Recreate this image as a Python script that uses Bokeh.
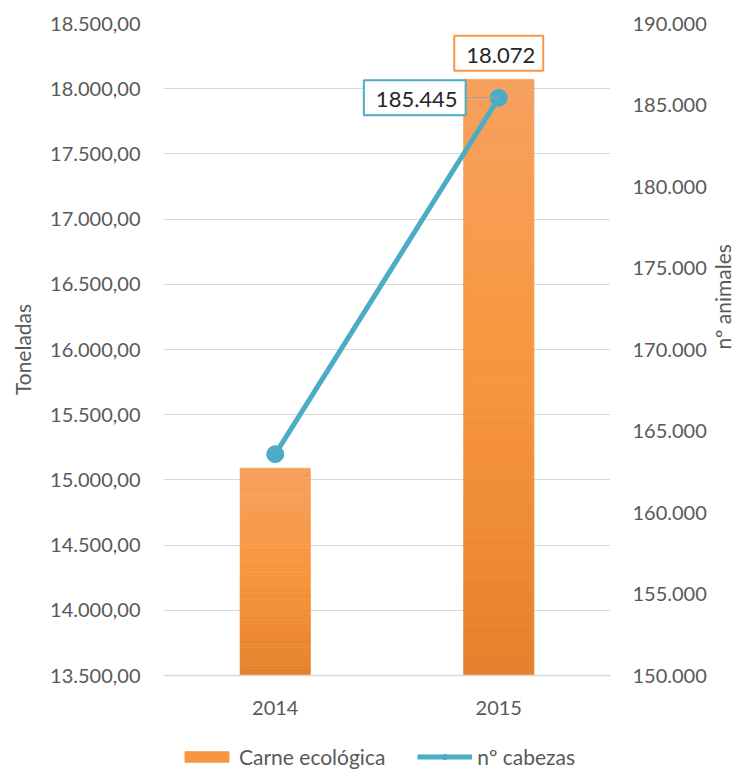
import math
from bokeh.plotting import figure
from bokeh.layouts import column
from bokeh.models import (Range1d, LinearAxis, FixedTicker, Legend, LegendItem, Label,
                          Arrow, ColumnDataSource, FactorRange)
from bokeh.embed import file_html
from bokeh.resources import INLINE

# ---------------- data ----------------
years = ["2014", "2015"]
carne_ton = [15090, 18072]          # Toneladas (left axis)
cabezas = [163580, 185445]          # nº animales (right axis)
left_ticks = [13500, 14000, 14500, 15000, 15500, 16000, 16500, 17000, 17500, 18000, 18500]
left_tick_labels = ["13.500,00", "14.000,00", "14.500,00", "15.000,00", "15.500,00", "16.000,00",
                    "16.500,00", "17.000,00", "17.500,00", "18.000,00", "18.500,00"]
right_ticks = [150000, 155000, 160000, 165000, 170000, 175000, 180000, 185000, 190000]
right_tick_labels = ["150.000", "155.000", "160.000", "165.000", "170.000", "175.000",
                     "180.000", "185.000", "190.000"]
series_names = ["Carne ecológica", "nº cabezas"]
bar_label = "18.072"
line_label = "185.445"

FONT = "Lato"
GRAY = "#595959"
TEAL = "#4BACC6"
ORANGE = "#F7963E"
ORANGE_BORDER = "#F79646"

p = figure(x_range=FactorRange(*years), y_range=Range1d(13500, 18500),
           frame_width=447, frame_height=652,
           min_border_left=163, min_border_right=133, min_border_top=23, min_border_bottom=60,
           output_backend="svg", toolbar_location=None)
p.outline_line_color = None
p.background_fill_color = "white"
p.border_fill_color = "white"
p.extra_y_ranges = {"right": Range1d(150000, 190000)}

# ---------------- gradient bars (slices of each bar) ----------------
def lerp(c1, c2, t):
    return tuple(int(round(a + (b - a) * t)) for a, b in zip(c1, c2))

c_bot = (229, 129, 44)
c_mid = (248, 150, 60)
c_top = (246, 160, 95)
N = 60
xs, bots, tops, cols = [], [], [], []
base = left_ticks[0]
for yr, v in zip(years, carne_ton):
    for i in range(N):
        t0 = i / N
        t1 = (i + 1) / N
        tm = (t0 + t1) / 2
        c = lerp(c_bot, c_mid, tm / 0.5) if tm < 0.5 else lerp(c_mid, c_top, (tm - 0.5) / 0.5)
        xs.append(yr)
        bots.append(base + (v - base) * t0)
        tops.append(base + (v - base) * t1)
        cols.append("#%02x%02x%02x" % c)
bar_src = ColumnDataSource(dict(x=xs, bottom=bots, top=tops, color=cols))
p.vbar(x="x", bottom="bottom", top="top", width=0.315, source=bar_src,
       fill_color="color", line_color="color", line_width=0.6)

# ---------------- line series on right axis ----------------
line_src = ColumnDataSource(dict(x=years, y=cabezas))
p.line(x="x", y="y", source=line_src, line_color=TEAL, line_width=5, y_range_name="right")
p.scatter(x="x", y="y", source=line_src, size=17, fill_color=TEAL, line_color=TEAL,
          y_range_name="right")

# ---------------- axes ----------------
lax = p.yaxis[0]
lax.ticker = FixedTicker(ticks=left_ticks)
lax.major_label_overrides = {t: s for t, s in zip(left_ticks, left_tick_labels)}
lax.axis_line_color = None
lax.major_tick_line_color = None
lax.minor_tick_line_color = None
lax.major_tick_out = 0
lax.major_tick_in = 0
lax.major_label_standoff = 23
lax.major_label_text_font = FONT
lax.major_label_text_font_size = "20px"
lax.major_label_text_color = GRAY
lax.axis_label = "Toneladas"
lax.axis_label_standoff = 12
lax.axis_label_text_font = FONT
lax.axis_label_text_font_size = "21px"
lax.axis_label_text_font_style = "normal"
lax.axis_label_text_color = GRAY

rax = LinearAxis(y_range_name="right", ticker=FixedTicker(ticks=right_ticks))
rax.major_label_overrides = {t: s for t, s in zip(right_ticks, right_tick_labels)}
rax.axis_line_color = None
rax.major_tick_line_color = None
rax.minor_tick_line_color = None
rax.major_tick_out = 0
rax.major_tick_in = 0
rax.major_label_standoff = 22
rax.major_label_text_font = FONT
rax.major_label_text_font_size = "20px"
rax.major_label_text_color = GRAY
rax.axis_label = "nº animales"
rax.axis_label_standoff = 13
rax.axis_label_text_font = FONT
rax.axis_label_text_font_size = "21px"
rax.axis_label_text_font_style = "normal"
rax.axis_label_text_color = GRAY
try:
    rax.axis_label_orientation = math.pi / 2
except Exception:
    pass
p.add_layout(rax, "right")

xax = p.xaxis[0]
xax.axis_line_color = "#D9D9D9"
xax.axis_line_width = 1.5
xax.major_tick_line_color = None
xax.minor_tick_line_color = None
xax.major_tick_out = 0
xax.major_tick_in = 0
xax.major_label_standoff = 25
xax.major_label_text_font = FONT
xax.major_label_text_font_size = "20px"
xax.major_label_text_color = GRAY

p.xgrid.grid_line_color = None
p.ygrid.ticker = FixedTicker(ticks=left_ticks)
p.ygrid.grid_line_color = "#D9D9D9"
p.ygrid.grid_line_width = 1

# ---------------- data labels ----------------
x2015 = years.index("2015") + 0.5
p.add_layout(Arrow(end=None, x_start=x2015, y_start=cabezas[1],
                   start_units="data", x_end=299, y_end=578, end_units="screen",
                   y_range_name="right", line_color="#A6A6A6", line_width=1))
p.add_layout(Label(x=x2015, y=carne_ton[1], text=bar_label,
                   y_offset=26, text_align="center", text_baseline="middle",
                   text_font=FONT, text_font_size="22px", text_color="#262626",
                   background_fill_color="white", border_line_color=ORANGE_BORDER,
                   border_line_width=2, padding=(12, 8, 12, 8)))
p.add_layout(Label(x=x2015, y=cabezas[1], y_range_name="right",
                   text=line_label, x_offset=-84, y_offset=0,
                   text_align="center", text_baseline="middle",
                   text_font=FONT, text_font_size="22px", text_color="#262626",
                   background_fill_color="white", border_line_color=TEAL,
                   border_line_width=2, padding=(12, 8, 12, 8)))

# ---------------- legend strip (separate small figure below) ----------------
LEG_H = 769 - (23 + 652 + 60)
lf = figure(x_range=FactorRange(*years), y_range=Range1d(13500, 18500),
            width=743, height=LEG_H, min_border=0,
            x_axis_location=None, y_axis_location=None,
            output_backend="svg", toolbar_location=None)
lf.outline_line_color = None
lf.grid.grid_line_color = None
lf.background_fill_color = "white"
lf.border_fill_color = "white"
# hidden copies of the series: only their legend swatches are shown
lb = lf.vbar(x=years, top=carne_ton, bottom=base, width=0.315,
             fill_color=ORANGE, line_color=ORANGE, visible=False)
ll = lf.line(x=years, y=cabezas, line_color=TEAL, line_width=5, visible=False)
ls = lf.scatter(x=years, y=cabezas, size=17, fill_color=TEAL, line_color=TEAL, visible=False)
legend = Legend(items=[LegendItem(label=series_names[0], renderers=[lb]),
                       LegendItem(label=series_names[1], renderers=[ll, ls])],
                orientation="horizontal", location=(16, 0),
                padding=0, margin=0, spacing=32, label_standoff=5,
                glyph_width=55, glyph_height=13,
                border_line_color=None, background_fill_alpha=0,
                inactive_fill_alpha=0,
                label_text_font=FONT, label_text_font_size="21px", label_text_color=GRAY)
lf.add_layout(legend, "center")

layout = column(p, lf, spacing=0)
open("out.html", "w").write(file_html(layout, INLINE))
